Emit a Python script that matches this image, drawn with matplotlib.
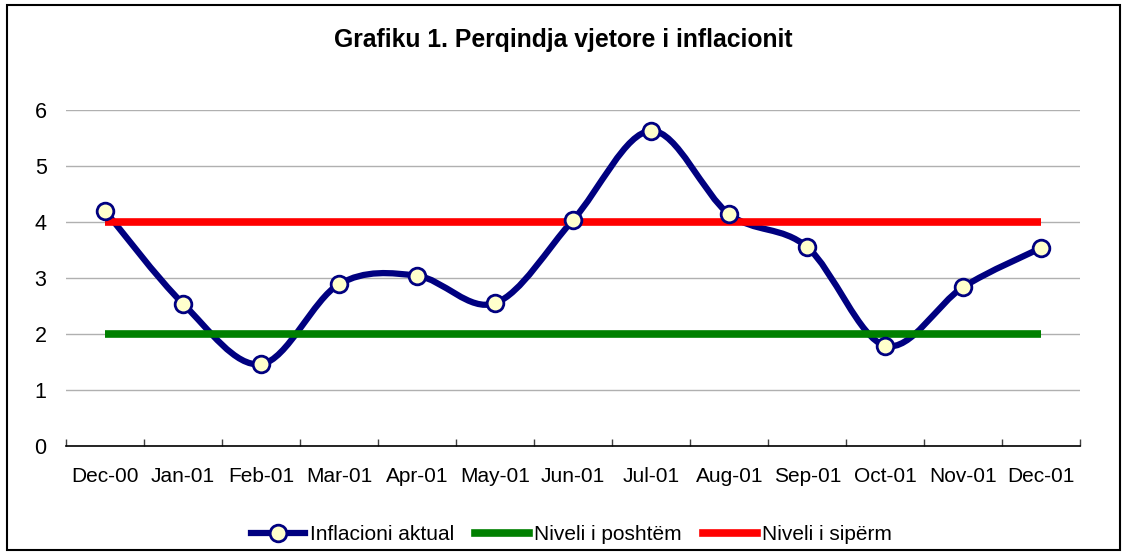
import numpy as np
import matplotlib.pyplot as plt
from matplotlib.path import Path
from matplotlib.patches import PathPatch, Rectangle
from matplotlib.lines import Line2D

plt.rcParams['font.family'] = ['Liberation Sans', 'DejaVu Sans']

months = ["Dec-00", "Jan-01", "Feb-01", "Mar-01", "Apr-01", "May-01", "Jun-01",
          "Jul-01", "Aug-01", "Sep-01", "Oct-01", "Nov-01", "Dec-01"]
inflacioni = [4.2, 2.54, 1.46, 2.89, 3.04, 2.55, 4.04, 5.63, 4.14, 3.55, 1.79, 2.84, 3.54]
niveli_poshtem = [2] * len(months)
niveli_siperm = [4] * len(months)

navy = "#000080"
x = np.arange(len(months))
y = np.array(inflacioni)

fig = plt.figure(figsize=(11.27, 5.56), dpi=100)
ax = fig.add_axes([0.0586, 0.198, 0.9, 0.604])

# smoothed line like excel (catmull-rom as bezier segments)
verts = [(x[0], y[0])]
codes = [Path.MOVETO]
n = len(x)
for i in range(n - 1):
    p0 = np.array([x[max(i - 1, 0)], y[max(i - 1, 0)]])
    p1 = np.array([x[i], y[i]])
    p2 = np.array([x[i + 1], y[i + 1]])
    p3 = np.array([x[min(i + 2, n - 1)], y[min(i + 2, n - 1)]])
    c1 = p1 + (p2 - p0) / 6
    c2 = p2 - (p3 - p1) / 6
    verts += [tuple(c1), tuple(c2), tuple(p2)]
    codes += [Path.CURVE4] * 3
ax.add_patch(PathPatch(Path(verts, codes), fill=False, edgecolor=navy, lw=4.5,
                       capstyle='round', joinstyle='round', zorder=2))

ax.plot(x, niveli_poshtem, color="#008000", lw=5.5, solid_capstyle='butt', zorder=3)
ax.plot(x, niveli_siperm, color="#FF0000", lw=5.5, solid_capstyle='butt', zorder=3)
ax.plot(x, y, ls='none', marker='o', ms=12, mfc="#FFFFCC", mec=navy, mew=2, zorder=4)

ax.set_xlim(-0.5, n - 0.5)
ax.set_ylim(0, 6)
ax.set_yticks(range(7))
ax.set_xticks(x)
ax.set_xticklabels(months)
ax.set_xticks(np.arange(-0.5, n, 1), minor=True)
ax.tick_params(axis='x', which='major', length=0, labelsize=15, pad=15)
ax.tick_params(axis='x', which='minor', direction='in', length=5, width=1, color='#404040')
ax.tick_params(axis='y', length=0, labelsize=15.5, pad=14)
ax.grid(axis='y', color='#b0b0b0', lw=1)
ax.set_axisbelow(True)
for s in ['top', 'right', 'left']:
    ax.spines[s].set_visible(False)
ax.spines['bottom'].set_linewidth(1.2)

fig.text(0.5, 0.928, "Grafiku 1. Perqindja vjetore i inflacionit",
         ha='center', va='center', fontsize=17.8, fontweight='bold')

handles = [
    Line2D([], [], color=navy, lw=4.5, marker='o', ms=12, mfc="#FFFFCC", mec=navy, mew=2),
    Line2D([], [], color="#008000", lw=5.5),
    Line2D([], [], color="#FF0000", lw=5.5),
]
fig.legend(handles, ["Inflacioni aktual", "Niveli i poshtëm", "Niveli i sipërm"],
           loc='center', bbox_to_anchor=(0.507, 0.038), ncol=3, frameon=False,
           fontsize=15, handlelength=2.6, handletextpad=0.25, columnspacing=1.0)

fig.add_artist(Rectangle((7 / 1127, 6 / 556), 1113 / 1127, 545 / 556, transform=fig.transFigure,
                         fill=False, edgecolor='black', lw=1.5))

fig.savefig("out.png", dpi=100)
